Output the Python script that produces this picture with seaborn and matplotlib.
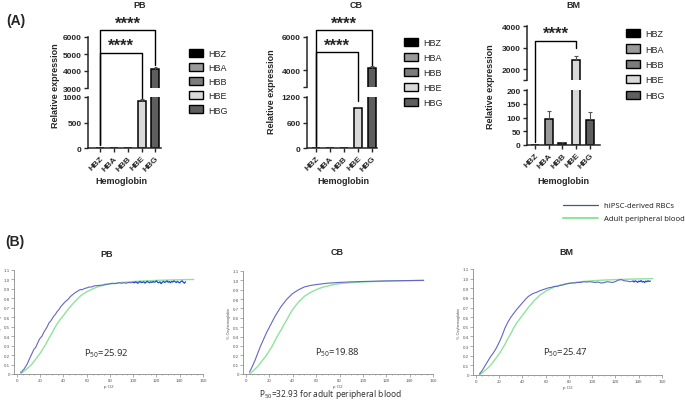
import matplotlib
matplotlib.use("Agg")
import matplotlib.pyplot as plt
import numpy as np
import pandas as pd
import seaborn as sns
from matplotlib.lines import Line2D
from matplotlib.patches import Patch
from matplotlib.ticker import MultipleLocator

# ---- data: qPCR relative expression (panel A) ----
genes = ["HBZ", "HBA", "HBB", "HBE", "HBG"]
gene_colors = ["#000000", "#9a9a9a", "#7c7c7c", "#d9d9d9", "#5e5e5e"]

pb_expr = [1, 8, 5, 930, 4100]
pb_err = [0, 3, 2, 25, 160]
cb_expr = [1, 10, 3, 930, 4120]
cb_err = [0, 3, 1, 30, 160]
bm_expr = [1, 95, 8, 2430, 92]
bm_err = [0, 27, 2, 190, 27]

# ---- data: oxygen dissociation curves (panel B) ----
adult_x = [3, 5, 7.5, 10, 12.5, 15, 17.5, 20, 22.5, 25, 27.5, 30, 32.5, 35, 37.5, 40, 42.5, 45, 47.5, 50,
           55, 60, 65, 70, 75, 80, 90, 100, 110, 120, 130, 140, 152]
adult_y = [0.0, 0.02, 0.045, 0.07, 0.10, 0.14, 0.18, 0.22, 0.27, 0.32, 0.38, 0.43, 0.49, 0.54, 0.58, 0.62,
           0.66, 0.70, 0.735, 0.77, 0.83, 0.87, 0.90, 0.925, 0.94, 0.953, 0.968, 0.978, 0.985, 0.99, 0.994,
           0.997, 1.0]
cb_adult_y = [0.0, 0.02, 0.05, 0.08, 0.12, 0.16, 0.20, 0.25, 0.30, 0.36, 0.42, 0.47, 0.53, 0.58, 0.64, 0.69,
              0.73, 0.77, 0.80, 0.83, 0.87, 0.90, 0.925, 0.94, 0.955, 0.965, 0.975, 0.983, 0.988, 0.992,
              0.995, 0.997, 1.0]

pb_ips_x = [3, 4, 5, 6, 7.5, 9, 10, 11.5, 13, 14.5, 16, 17.5, 19, 20, 21.5, 23, 24.5, 26, 27.5, 29,
            30, 31.5, 33, 34.5, 36, 37.5, 39, 40, 42, 44, 46, 48, 50, 52, 54, 55, 56, 58, 60, 62,
            64, 66, 68, 70, 72, 74, 76, 78, 80, 82, 84, 86, 88, 90, 92, 94, 96, 98, 100]
pb_ips_y = [0.02, 0.02, 0.04, 0.05, 0.08, 0.11, 0.14, 0.18, 0.22, 0.26, 0.28, 0.32, 0.36, 0.38, 0.40, 0.44,
            0.47, 0.50, 0.54, 0.56, 0.58, 0.61, 0.63, 0.66, 0.68, 0.71, 0.73, 0.745, 0.77, 0.79, 0.82, 0.84,
            0.86, 0.875, 0.89, 0.895, 0.89, 0.905, 0.91, 0.92, 0.92, 0.93, 0.935, 0.935, 0.94, 0.94, 0.95,
            0.95, 0.955, 0.96, 0.955, 0.96, 0.965, 0.96, 0.965, 0.96, 0.968, 0.965, 0.97]
pb_tail_x = [100, 101, 102, 103, 104, 105, 106, 107, 108, 109, 110, 111, 112, 113, 114, 115, 116, 117,
             118, 119, 120, 121, 122, 123, 124, 125, 126, 127, 128, 129, 130, 131, 132, 133, 134, 135,
             136, 137, 138, 139, 140, 141, 142, 143, 144, 145]
pb_tail_y = [0.97, 0.965, 0.975, 0.968, 0.96, 0.972, 0.978, 0.966, 0.97, 0.975, 0.962, 0.97, 0.98, 0.972,
             0.965, 0.975, 0.968, 0.978, 0.97, 0.975, 0.985, 0.97, 0.965, 0.975, 0.955, 0.972, 0.98, 0.968,
             0.975, 0.985, 0.97, 0.978, 0.965, 0.98, 0.972, 0.985, 0.975, 0.968, 0.98, 0.97, 0.965, 0.978,
             0.985, 0.972, 0.96, 0.975]

cb_ips_x = [3, 5, 7.5, 10, 12.5, 15, 17.5, 20, 22.5, 25, 27.5, 30, 35, 40, 45, 50, 55, 60, 70, 80, 90,
            100, 110, 120, 130, 140, 152]
cb_ips_y = [0.02, 0.07, 0.14, 0.22, 0.30, 0.37, 0.44, 0.50, 0.56, 0.62, 0.67, 0.72, 0.80, 0.86, 0.90,
            0.93, 0.945, 0.955, 0.97, 0.978, 0.984, 0.988, 0.991, 0.994, 0.996, 0.998, 1.0]

bm_ips_x = [3, 5, 7.5, 10, 12.5, 15, 17.5, 20, 22.5, 25, 27.5, 30, 32.5, 35, 37.5, 40, 42.5, 45, 47.5, 50,
            52.5, 55, 57.5, 60, 62.5, 65, 67.5, 70, 72.5, 75, 77.5, 80, 82.5, 85, 87.5, 90, 92.5, 95,
            97.5, 100, 102.5, 105, 107.5, 110, 112.5, 115, 117.5, 120, 122.5, 125, 127.5, 130, 132.5, 135]
bm_ips_y = [0.01, 0.04, 0.09, 0.14, 0.19, 0.23, 0.28, 0.34, 0.41, 0.49, 0.55, 0.60, 0.64, 0.68, 0.715,
            0.75, 0.785, 0.815, 0.835, 0.85, 0.86, 0.875, 0.885, 0.895, 0.905, 0.91, 0.92, 0.92, 0.93,
            0.935, 0.945, 0.95, 0.955, 0.955, 0.96, 0.96, 0.968, 0.965, 0.968, 0.965, 0.96, 0.965, 0.955,
            0.958, 0.968, 0.965, 0.96, 0.97, 0.985, 0.99, 0.978, 0.975, 0.968, 0.975]
bm_tail_x = [135, 136, 137, 138, 139, 140, 141, 142, 143, 144, 145, 146, 147, 148, 149, 150]
bm_tail_y = [0.975, 0.965, 0.978, 0.97, 0.962, 0.975, 0.968, 0.98, 0.965, 0.972, 0.96, 0.975, 0.968,
             0.978, 0.97, 0.975]

sns.set_style("ticks")
plt.rcParams["font.family"] = ["Liberation Sans", "DejaVu Sans"]
plt.rcParams["mathtext.default"] = "regular"

W, H = 685, 406
fig = plt.figure(figsize=(W / 100, H / 100), dpi=100)


def box(x0, y0, x1, y1):
    # pixel box (top-left origin) -> figure fraction rect
    return [x0 / W, 1 - y1 / H, (x1 - x0) / W, (y1 - y0) / H]


def ftext(x, y, s, **kw):
    fig.text(x / W, 1 - y / H, s, **kw)


def bar_panel(expr, err, xr, low_y, high_y, xlim, low_lim, low_ticks, high_lim, high_ticks, high_labels):
    df = pd.DataFrame({"gene": genes, "value": expr})
    ax_lo = fig.add_axes(box(xr[0], low_y[0], xr[1], low_y[1]))
    ax_hi = fig.add_axes(box(xr[0], high_y[0], xr[1], high_y[1]))
    pos = np.arange(len(genes))
    top = np.array(expr) + np.array(err)
    for ax in (ax_lo, ax_hi):
        sns.barplot(data=df, x="gene", y="value", hue="gene", palette=gene_colors, dodge=False,
                    legend=False, width=0.58, edgecolor="black", linewidth=1.1, ax=ax)
        ax.vlines(pos, expr, top, color="#555555", lw=0.8)
        ax.hlines(top, pos - 0.14, pos + 0.14, color="#555555", lw=0.8)
        ax.set_xlim(*xlim)
        ax.set_xlabel("")
        ax.set_ylabel("")
        for s in ("top", "right"):
            ax.spines[s].set_visible(False)
        ax.spines["left"].set_linewidth(1.1)
        ax.spines["bottom"].set_linewidth(1.1)
        ax.tick_params(axis="y", length=3, width=1.0, pad=1.5, labelsize=6)
    ax_lo.set_ylim(*low_lim)
    ax_lo.set_yticks(low_ticks)
    ax_lo.set_yticklabels([str(t) for t in low_ticks], fontweight="bold", fontsize=6)
    ax_lo.set_xticks(pos)
    ax_lo.set_xticklabels(genes, rotation=45, ha="right", rotation_mode="anchor",
                          fontweight="bold", fontsize=6)
    ax_lo.tick_params(axis="x", length=3, width=1.0, pad=1.5)
    ax_hi.set_ylim(*high_lim)
    ax_hi.set_yticks(high_ticks)
    ax_hi.set_yticklabels(high_labels, fontweight="bold", fontsize=6)
    ax_hi.spines["bottom"].set_visible(False)
    ax_hi.set_xticks([])
    return ax_lo, ax_hi


def bracket(ax_lo, ax_hi, i, j, y_top, y_left, y_right, y_star):
    split = ax_hi.get_ylim()[0]
    inv = fig.transFigure.inverted()

    def to_fig(x, y):
        ax = ax_hi if y >= split else ax_lo
        return inv.transform(ax.transData.transform((x, y)))

    pts = np.array([to_fig(i, y_left), to_fig(i, y_top), to_fig(j, y_top), to_fig(j, y_right)])
    fig.add_artist(Line2D(pts[:, 0], pts[:, 1], transform=fig.transFigure, color="black", lw=1.0))
    sx, sy = to_fig((i + j) / 2, y_star)
    fig.text(sx, sy, "****", ha="center", va="center", fontsize=12, fontweight="bold")


def gene_legend(x, y, spacing):
    handles = [Patch(facecolor=c, edgecolor="black", linewidth=1.0) for c in gene_colors]
    fig.legend(handles, genes, loc="upper left", bbox_to_anchor=(x / W, 1 - y / H), frameon=False,
               fontsize=6.5, handlelength=1.6, handleheight=1.0, labelspacing=spacing,
               handletextpad=0.5, borderaxespad=0, borderpad=0)


# ---- panel A ----
pb_lo, pb_hi = bar_panel(pb_expr, pb_err, (88, 161), (98, 149), (38, 89), (-0.87, 4.4),
                         (0, 1000), [0, 500, 1000], (3000, 6000), [3000, 4000, 5000, 6000],
                         ["3000", "4000", "5000", "6000"])
bracket(pb_lo, pb_hi, 0, 3, 5050, 50, 990, 5500)
bracket(pb_lo, pb_hi, 0, 4, 6400, 50, 4350, 6820)

cb_lo, cb_hi = bar_panel(cb_expr, cb_err, (307, 377), (98, 149), (38, 88), (-0.64, 4.35),
                         (0, 1200), [0, 600, 1200], (3000, 6000), [3000, 4000, 6000],
                         ["", "4000", "6000"])
bracket(cb_lo, cb_hi, 0, 3, 5100, 50, 1100, 5520)
bracket(cb_lo, cb_hi, 0, 4, 6420, 50, 4350, 6840)

bm_lo, bm_hi = bar_panel(bm_expr, bm_err, (527, 600), (91, 146), (27, 81), (-0.58, 4.73),
                         (0, 200), [0, 50, 100, 150, 200], (1500, 4000), [1500, 2000, 3000, 4000],
                         ["", "2000", "3000", "4000"])
bracket(bm_lo, bm_hi, 0, 3, 3300, 10, 3000, 3650)

gene_legend(189, 50, 0.55)
gene_legend(404, 39, 0.65)
gene_legend(626, 30, 0.7)

for x, y, t in [(140, 5, "PB"), (356, 5, "CB"), (573, 6, "BM")]:
    ftext(x, y, t, ha="center", va="center", fontsize=6.5, fontweight="bold")
for x, y in [(56, 86), (271, 92), (491, 87)]:
    ftext(x, y, "Relative expression", rotation=90, ha="center", va="center", fontsize=6.5,
          fontweight="bold")
for x in (121, 343, 563):
    ftext(x, 182, "Hemoglobin", ha="center", va="center", fontsize=6.5, fontweight="bold")
ftext(16, 21, "(A)", ha="center", va="center", fontsize=10, fontweight="bold")
ftext(15, 242, "(B)", ha="center", va="center", fontsize=10, fontweight="bold")

# ---- panel B ----
ips_color = "#6366c6"
tail_color = "#2445d8"
adult_color = "#8fe39c"


def curve_panel(rect, segments):
    ax = fig.add_axes(rect)
    for x, y, c, lw in segments:
        sns.lineplot(x=x, y=y, color=c, lw=lw, sort=False, estimator=None, ax=ax)
    ax.set_xlim(-2.57, 160)
    ax.set_ylim(0, 1.1)
    ax.set_xticks([0, 20, 40, 60, 80, 100, 120, 140, 160])
    ax.xaxis.set_minor_locator(MultipleLocator(5))
    ax.set_yticks([0, 0.1, 0.2, 0.3, 0.4, 0.5, 0.6, 0.7, 0.8, 0.9, 1.0, 1.1])
    ax.set_yticklabels(["0", "0.1", "0.2", "0.3", "0.4", "0.5", "0.6", "0.7", "0.8", "0.9", "1.0", "1.1"])
    for s in ("top", "right"):
        ax.spines[s].set_visible(False)
    for s in ("left", "bottom"):
        ax.spines[s].set_color("#8a8a8a")
        ax.spines[s].set_linewidth(0.6)
    ax.tick_params(which="major", length=2, width=0.5, color="#8a8a8a", labelsize=3.2,
                   labelcolor="#555555", pad=1)
    ax.tick_params(which="minor", length=1, width=0.4, color="#8a8a8a")
    ax.set_xlabel("p O2", fontsize=3.2, color="#555555", labelpad=1)
    ax.set_ylabel("% Oxyhemoglobin", fontsize=2.8, color="#555555", labelpad=0.8)
    return ax


curve_panel(box(14, 271, 203, 375), [(adult_x, adult_y, adult_color, 1.0),
                                     (pb_ips_x, pb_ips_y, ips_color, 0.8),
                                     (pb_tail_x, pb_tail_y, tail_color, 0.9)])
curve_panel(box(243, 272, 433, 375), [(adult_x, cb_adult_y, adult_color, 1.0),
                                      (cb_ips_x, cb_ips_y, ips_color, 0.8)])
curve_panel(box(473, 270, 662, 376), [(adult_x, adult_y, adult_color, 1.0),
                                      (bm_ips_x, bm_ips_y, ips_color, 0.8),
                                      (bm_tail_x, bm_tail_y, tail_color, 0.9)])

for x, y, t in [(107, 255, "PB"), (337, 253, "CB"), (566, 253, "BM")]:
    ftext(x, y, t, ha="center", va="center", fontsize=6.5, fontweight="bold")
for x, y, v in [(106, 354, "25.92"), (337, 353, "19.88"), (565, 353, "25.47")]:
    ftext(x, y, "P$_{50}$=" + v, ha="center", va="center", fontsize=6.8, color="#333333",
          family=["Noto Sans", "DejaVu Sans"])
ftext(330, 395, "P$_{50}$=32.93 for adult peripheral blood", ha="center", va="center", fontsize=6,
      color="#333333", family=["Noto Sans", "DejaVu Sans"])

line_handles = [Line2D([], [], color="#3f5d7c", lw=0.9), Line2D([], [], color=adult_color, lw=1.4)]
fig.legend(line_handles, ["hiPSC-derived RBCs", "Adult peripheral blood"], loc="upper left",
           bbox_to_anchor=(563 / W, 1 - 203 / H), frameon=False, handlelength=4.6,
           handletextpad=0.8, labelspacing=0.75, borderaxespad=0, borderpad=0,
           prop={"family": ["Noto Sans", "DejaVu Sans"], "size": 5.5})

fig.savefig("out.png", dpi=100)
